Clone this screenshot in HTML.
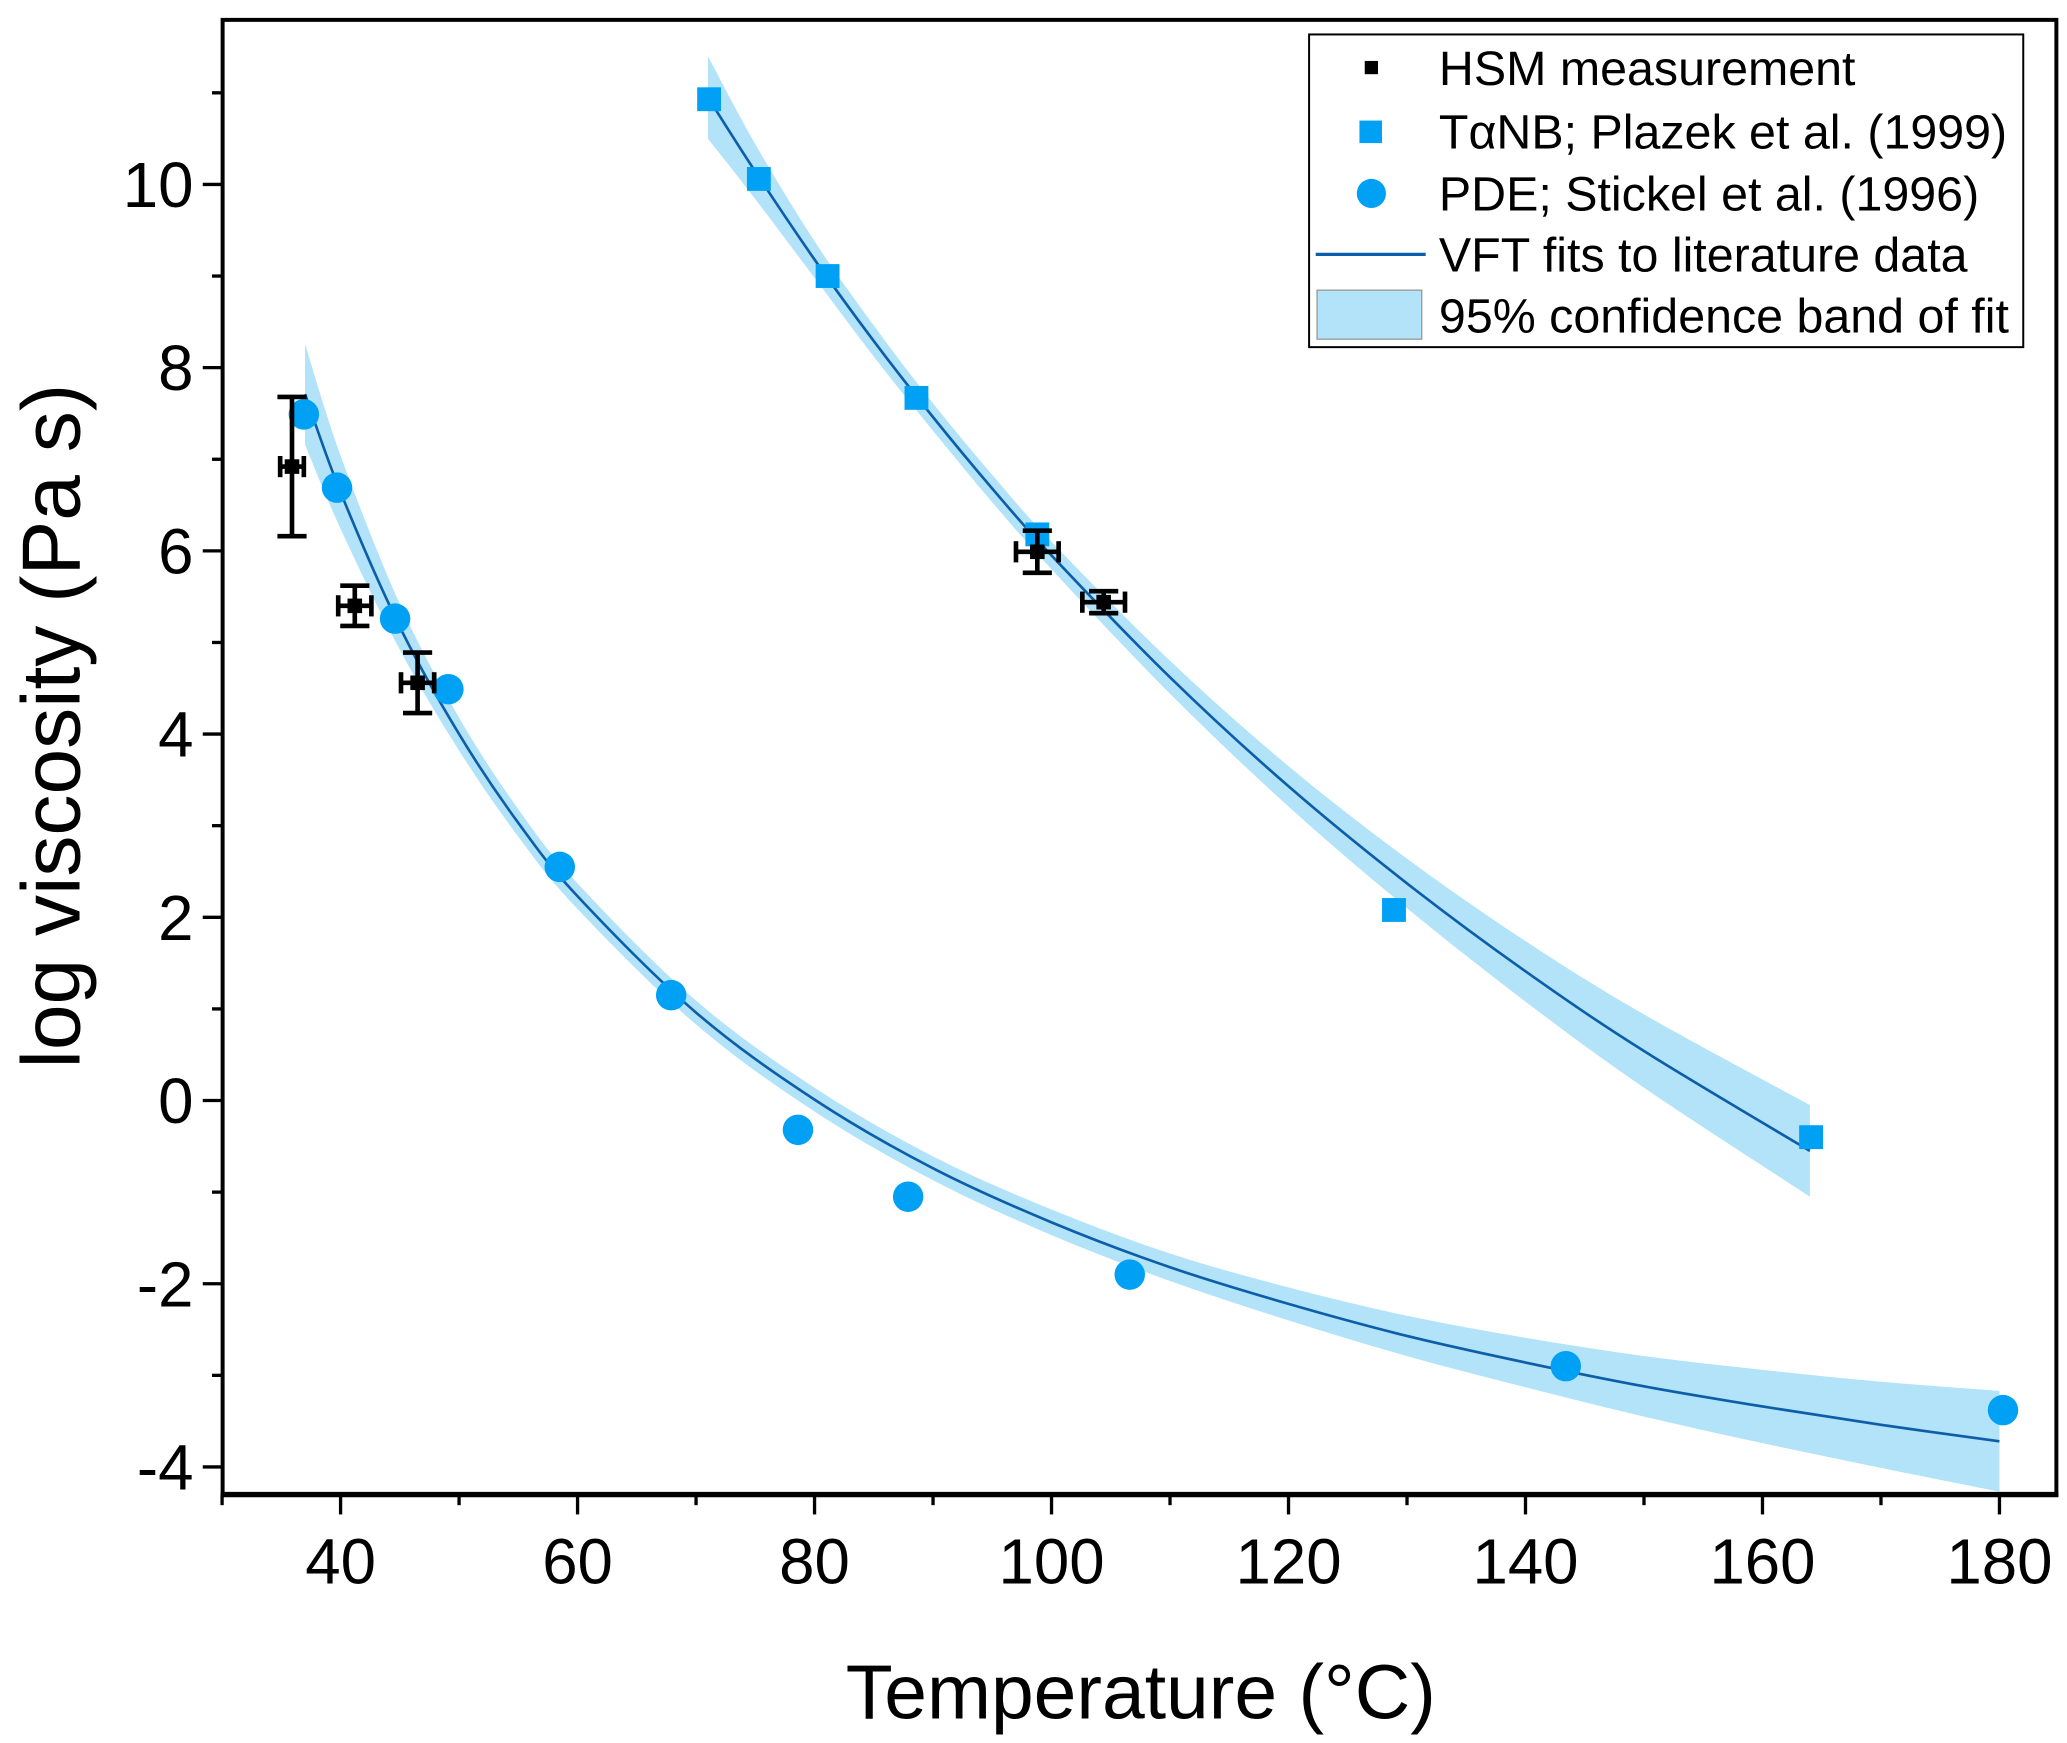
<!DOCTYPE html>
<html><head><meta charset="utf-8"><style>
html,body{margin:0;padding:0;background:#fff;}
svg{display:block;}
text{font-family:"Liberation Sans",Arial,sans-serif;fill:#000;}
</style></head><body>
<svg id="chart" width="2067" height="1743" viewBox="0 0 1560 1315.5" xmlns="http://www.w3.org/2000/svg">
<g id="band"></g>
<g id="fits"></g>
<g id="marks"></g>
<g id="axes"></g>
<g id="legend"></g>
</svg>
<script>
// ---- data ----
const tanbT = [71.1, 75.3, 81.1, 88.6, 98.8, 128.9, 164.1];
const tanbLog = [10.93, 10.06, 9.0, 7.67, 6.18, 2.08, -0.40];
const pdeT = [36.9, 39.7, 44.6, 49.1, 58.5, 67.9, 78.6, 87.9, 106.6, 143.4, 180.3];
const pdeLog = [7.49, 6.69, 5.26, 4.49, 2.55, 1.15, -0.32, -1.05, -1.90, -2.90, -3.38];
const hsmT = [35.9, 41.2, 46.5, 98.8, 104.4];
const hsmLog = [6.92, 5.40, 4.56, 5.99, 5.44];
const hsmYErr = [0.76, 0.22, 0.33, 0.23, 0.12];
const hsmXErr = [1.0, 1.4, 1.4, 1.8, 1.8];
const fitLowT = [37, 40, 45, 50, 55, 60, 70, 80, 90, 100, 110, 120, 130, 140, 150, 160, 170, 180];
const fitLowLog = [7.71, 6.64, 5.17, 4.00, 3.03, 2.23, 0.96, 0.01, -0.74, -1.33, -1.82, -2.22, -2.57, -2.86, -3.12, -3.34, -3.54, -3.72];
const fitLowBand = [0.55, 0.4, 0.25, 0.18, 0.15, 0.14, 0.13, 0.13, 0.13, 0.14, 0.15, 0.18, 0.22, 0.27, 0.33, 0.4, 0.47, 0.55];
const fitUpT = [71, 75, 80, 85, 90, 95, 100, 110, 120, 130, 140, 150, 164];
const fitUpLog = [10.95, 10.14, 9.18, 8.29, 7.46, 6.68, 5.95, 4.62, 3.43, 2.37, 1.41, 0.54, -0.55];
const fitUpBand = [0.45, 0.3, 0.2, 0.17, 0.15, 0.15, 0.15, 0.18, 0.22, 0.27, 0.33, 0.4, 0.5];
const xTicks = [40, 60, 80, 100, 120, 140, 160, 180];
const yTicks = [-4, -2, 0, 2, 4, 6, 8, 10];

// ---- axes functions ----
const PL = 168, PR = 1552, PT = 15, PB = 1128;
const X = v => 167.6 + (v - 30) * 8.943;
const Y = v => 830.6 - v * 69.14;
const NS = 'http://www.w3.org/2000/svg';
function mk(tag, attrs, parent) {
  const e = document.createElementNS(NS, tag);
  for (const k in attrs) e.setAttribute(k, attrs[k]);
  parent.appendChild(e);
  return e;
}
function smooth(pts) {
  let d = 'M' + pts[0][0] + ',' + pts[0][1];
  for (let i = 0; i < pts.length - 1; i++) {
    const p0 = pts[Math.max(i - 1, 0)], p1 = pts[i], p2 = pts[i + 1], p3 = pts[Math.min(i + 2, pts.length - 1)];
    const c1 = [p1[0] + (p2[0] - p0[0]) / 6, p1[1] + (p2[1] - p0[1]) / 6];
    const c2 = [p2[0] - (p3[0] - p1[0]) / 6, p2[1] - (p3[1] - p1[1]) / 6];
    d += ' C' + c1 + ' ' + c2 + ' ' + p2;
  }
  return d;
}
const band = document.getElementById('band'), fits = document.getElementById('fits'),
  marks = document.getElementById('marks'), axes = document.getElementById('axes'), legend = document.getElementById('legend');
const BANDC = '#b2e3f9', LINEC = '#0d5ea8', MARKC = '#00a0f5';

function drawFit(T, L, B, name) {
  const up = T.map((t, i) => [X(t), Y(L[i] + B[i])]);
  const lo = T.map((t, i) => [X(t), Y(L[i] - B[i])]).reverse();
  const d = smooth(up) + ' L' + lo[0] + smooth(lo).replace(/^M[^ ]+/, '') + ' Z';
  const b = mk('path', {d: d, fill: BANDC, stroke: 'none'}, band);
  
  
  const l = mk('path', {d: smooth(T.map((t, i) => [X(t), Y(L[i])])), fill: 'none', stroke: LINEC, 'stroke-width': 2}, fits);
  
  
}
drawFit(fitLowT, fitLowLog, fitLowBand, 'pde-fit');
drawFit(fitUpT, fitUpLog, fitUpBand, 'tanb-fit');

tanbT.forEach((t, i) => {
  const r = mk('rect', {x: X(t) - 9, y: Y(tanbLog[i]) - 9, width: 18, height: 18, fill: MARKC}, marks);
  
  
});
pdeT.forEach((t, i) => {
  const c = mk('circle', {cx: X(t), cy: Y(pdeLog[i]), r: 11.5, fill: MARKC}, marks);
  
  
});
hsmT.forEach((t, i) => {
  const g = mk('g', {stroke: '#000', 'stroke-width': 3.5, fill: 'none'}, marks);
  
  
  const cx = X(t), cy = Y(hsmLog[i]), y1 = Y(hsmLog[i] + hsmYErr[i]), y2 = Y(hsmLog[i] - hsmYErr[i]);
  const x1 = X(t - hsmXErr[i]), x2 = X(t + hsmXErr[i]);
  mk('line', {x1: cx, x2: cx, y1: y1, y2: y2}, g);
  mk('line', {x1: cx - 11, x2: cx + 11, y1: y1, y2: y1}, g);
  mk('line', {x1: cx - 11, x2: cx + 11, y1: y2, y2: y2}, g);
  mk('line', {x1: x1, x2: x2, y1: cy, y2: cy}, g);
  mk('line', {x1: x1, x2: x1, y1: cy - 8, y2: cy + 8}, g);
  mk('line', {x1: x2, x2: x2, y1: cy - 8, y2: cy + 8}, g);
  mk('rect', {x: cx - 5.5, y: cy - 5.5, width: 11, height: 11, fill: '#000', stroke: 'none'}, g);
});

// axes frame
const frame = mk('rect', {x: PL, y: PT, width: PR - PL, height: PB - PT, fill: 'none', stroke: '#000', 'stroke-width': 3}, axes);


mk('line', {x1: PL - 1.5, x2: PR + 1.5, y1: PB, y2: PB, stroke: '#000', 'stroke-width': 4}, axes);
for (let v = 30; v <= 180; v += 10) {
  const major = v % 20 === 0;
  mk('line', {x1: X(v), x2: X(v), y1: PB, y2: PB + (major ? 15 : 8), stroke: '#000', 'stroke-width': 2.5}, axes);
}
xTicks.forEach(v => {
  const t = mk('text', {x: X(v), y: PB + 67, 'text-anchor': 'middle', 'font-size': 48}, axes);
  t.textContent = v;
  
  
});
for (let v = -4; v <= 11; v += 1) {
  const major = v % 2 === 0;
  mk('line', {x1: PL, x2: PL - (major ? 15 : 8), y1: Y(v), y2: Y(v), stroke: '#000', 'stroke-width': 2.5}, axes);
}
yTicks.forEach(v => {
  const t = mk('text', {x: PL - 22, y: Y(v) + 17, 'text-anchor': 'end', 'font-size': 48}, axes);
  t.textContent = v;
  
  
});
const xt = mk('text', {x: 861, y: 1297, 'text-anchor': 'middle', 'font-size': 58}, axes);
xt.textContent = 'Temperature (°C)';


const yt = mk('text', {x: 0, y: 0, 'text-anchor': 'middle', 'font-size': 62, transform: 'translate(60,548) rotate(-90)'}, axes);
yt.textContent = 'log viscosity (Pa s)';



// legend
const lb = mk('rect', {x: 988, y: 26, width: 539, height: 236, fill: '#fff', stroke: '#000', 'stroke-width': 1.5}, legend);


const entries = ['HSM measurement', 'TαNB; Plazek et al. (1999)', 'PDE; Stickel et al. (1996)', 'VFT fits to literature data', '95% confidence band of fit'];
const ey = [51, 99, 146, 192, 238];
entries.forEach((s, i) => {
  const t = mk('text', {x: 1086, y: ey[i] + 13, 'font-size': 36.5}, legend);
  t.textContent = s;
  
  
});
mk('rect', {x: 1030, y: 46, width: 10, height: 10, fill: '#000'}, legend);
mk('rect', {x: 1026, y: 91, width: 17, height: 17, fill: MARKC}, legend);
mk('circle', {cx: 1035, cy: 146, r: 11, fill: MARKC}, legend);
mk('line', {x1: 993, x2: 1076, y1: 192, y2: 192, stroke: LINEC, 'stroke-width': 2.5}, legend);
mk('rect', {x: 994, y: 219, width: 79, height: 37, fill: BANDC, stroke: '#999', 'stroke-width': 1}, legend);
</script>
</body></html>
